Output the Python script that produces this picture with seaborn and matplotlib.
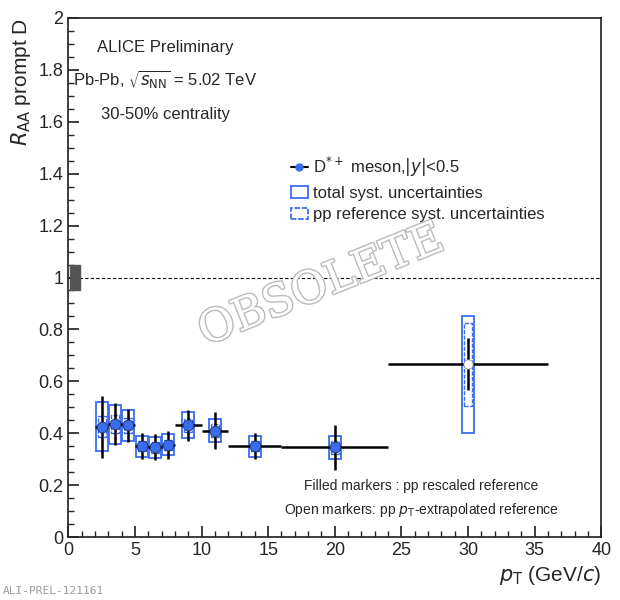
import matplotlib
matplotlib.use("Agg")
import matplotlib.pyplot as plt
import matplotlib.patheffects as pe
import seaborn as sns
import numpy as np
import pandas as pd
from matplotlib.patches import Rectangle
from matplotlib.lines import Line2D

pt = [2.5, 3.5, 4.5, 5.5, 6.5, 7.5, 9, 11, 14, 20, 30]
xlo = [2, 3, 4, 5, 6, 7, 8, 10, 12, 16, 24]
xhi = [3, 4, 5, 6, 7, 8, 10, 12, 16, 24, 36]
raa = [0.425, 0.435, 0.43, 0.35, 0.345, 0.355, 0.43, 0.41, 0.35, 0.345, 0.665]
stat = [0.12, 0.08, 0.065, 0.05, 0.05, 0.055, 0.06, 0.07, 0.05, 0.085, 0.10]
syst_lo = [0.095, 0.075, 0.06, 0.04, 0.04, 0.04, 0.05, 0.045, 0.04, 0.045, 0.265]
syst_hi = [0.095, 0.075, 0.06, 0.04, 0.04, 0.04, 0.05, 0.045, 0.04, 0.045, 0.185]
ppref = [0.04, 0.035, 0.03, 0.02, 0.02, 0.02, 0.025, 0.025, 0.02, 0.025, 0.16]

sns.set_theme(style="ticks")
plt.rcParams['font.family'] = ['Liberation Sans', 'DejaVu Sans']
fig, ax = plt.subplots(figsize=(6.2, 6.0), dpi=100)
fig.subplots_adjust(left=0.11, right=0.97, top=0.97, bottom=0.105)
blue = '#3a6cf0'
df = pd.DataFrame(dict(pt=pt, raa=raa))
for i in range(len(pt)):
    ax.add_patch(Rectangle((pt[i]-0.45, raa[i]-syst_lo[i]), 0.9, syst_lo[i]+syst_hi[i],
                           fill=False, ec=blue, lw=1.3, zorder=2))
    ax.add_patch(Rectangle((pt[i]-0.3, raa[i]-ppref[i]), 0.6, 2*ppref[i],
                           fill=False, ec=blue, lw=1.0, ls=(0, (3, 1)), zorder=2))
ax.errorbar(pt, raa, yerr=stat, xerr=[np.array(pt)-np.array(xlo), np.array(xhi)-np.array(pt)],
            fmt='none', ecolor='black', elinewidth=1.8, zorder=3)
sns.scatterplot(data=df.iloc[:-1], x='pt', y='raa', ax=ax, color=blue, s=60,
                edgecolor='#223366', zorder=4, legend=False)
sns.scatterplot(data=df.iloc[-1:], x='pt', y='raa', ax=ax, color='white', s=45,
                edgecolor='#888888', zorder=4, legend=False)
ax.add_patch(Rectangle((0.1, 0.95), 0.8, 0.1, color='#555555', zorder=3))
ax.axhline(1, color='black', ls=(0, (3, 2)), lw=0.8)
ax.set_xlim(0, 40); ax.set_ylim(0, 2)
ax.set_xticks(range(0, 41, 5)); ax.set_yticks(np.arange(0, 2.01, 0.2))
ax.set_yticklabels(['0', '0.2', '0.4', '0.6', '0.8', '1', '1.2', '1.4', '1.6', '1.8', '2'])
ax.minorticks_on()
ax.tick_params(which='both', direction='in', top=False, right=False, labelsize=13)
ax.tick_params(which='major', length=8); ax.tick_params(which='minor', length=4)
ax.set_xlabel(r'$p_{\rm T}$ (GeV/$c$)', fontsize=15, loc='right')
ax.set_ylabel(r'$R_{\rm AA}$ prompt D', fontsize=15, loc='top')
ax.text(7.3, 1.87, 'ALICE Preliminary', fontsize=12, ha='center')
ax.text(7.3, 1.74, r'Pb-Pb, $\sqrt{s_{\rm NN}}$ = 5.02 TeV', fontsize=12, ha='center')
ax.text(7.3, 1.61, '30-50% centrality', fontsize=12, ha='center')
handles = [Line2D([], [], marker='o', color='black', mfc=blue, mec=blue, ms=5, lw=1.5),
           Rectangle((0, 0), 1, 1, fill=False, ec=blue, lw=1.3),
           Rectangle((0, 0), 1, 1, fill=False, ec=blue, lw=1.3, ls=(0, (3, 1)))]
ax.legend(handles, [r'D$^{*+}$ meson,$|y|$<0.5', 'total syst. uncertainties',
                    'pp reference syst. uncertainties'],
          loc='upper left', bbox_to_anchor=(0.39, 0.765), frameon=False, fontsize=12,
          handlelength=1.0, handletextpad=0.3, labelspacing=0.4)
ax.text(26.5, 0.18, 'Filled markers : pp rescaled reference', fontsize=10, ha='center')
ax.text(26.5, 0.09, r'Open markers: pp $p_{\rm T}$-extrapolated reference', fontsize=10, ha='center')
ax.text(19, 0.97, 'OBSOLETE', fontsize=32, rotation=22, ha='center', va='center',
        color='white', fontfamily='DejaVu Serif',
        path_effects=[pe.withStroke(linewidth=2, foreground='#bbbbbb')])
fig.text(0.005, 0.01, 'ALI-PREL-121161', fontsize=8, color='#999999', fontfamily='DejaVu Sans Mono')
fig.savefig('out.png')
